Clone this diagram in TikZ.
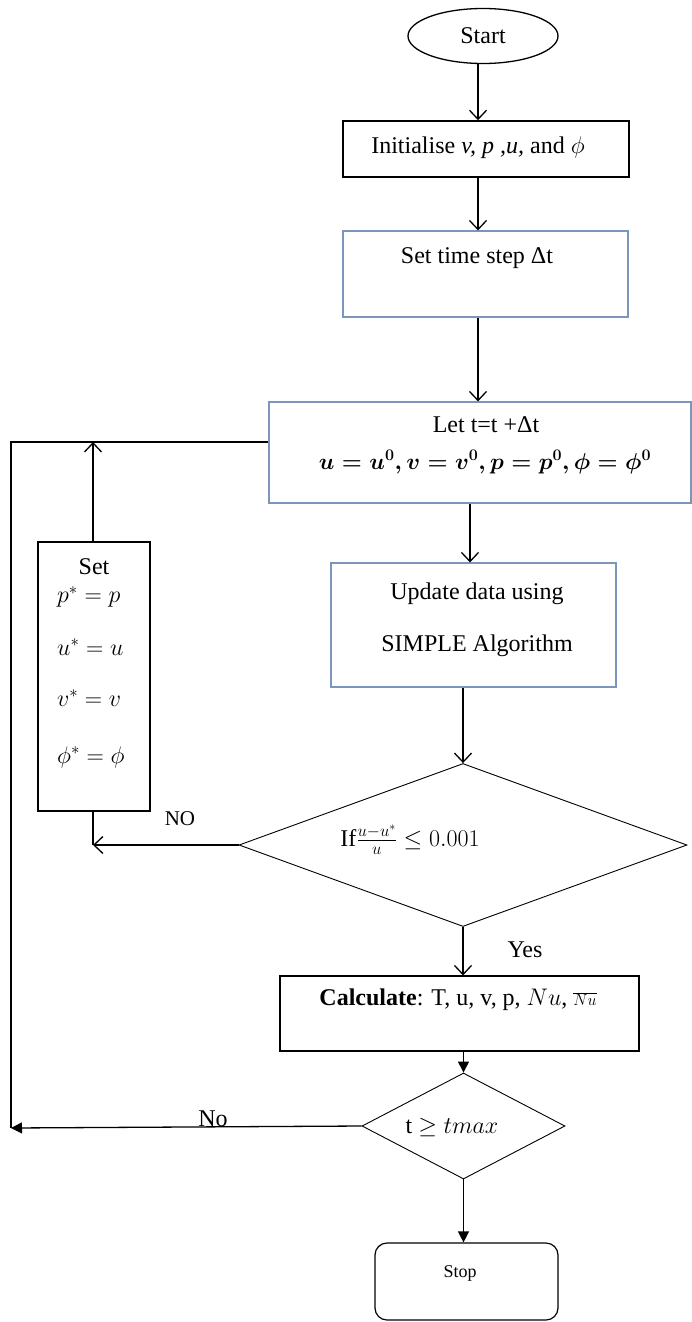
\documentclass[tikz,border=0pt]{standalone}
\usepackage{fix-cm}
\usepackage{fontspec}
\setmainfont{Liberation Serif}
\usetikzlibrary{shapes.geometric,arrows.meta,calc}
\definecolor{boxblue}{RGB}{122,150,188}
\tikzset{
 blackbox/.style={draw=black, line width=1.6pt, rectangle, inner sep=0pt},
 bluebox/.style={draw=boxblue, line width=1.2pt, rectangle, inner sep=0pt},
 decision/.style={draw=black, line width=0.9pt, diamond, inner sep=0pt},
 txt/.style={inner sep=0pt, font=\fontsize{24}{28}\selectfont},
 arr/.style={line width=1.3pt, -{Straight Barb[length=9pt,width=17pt,line width=1.3pt]}},
 farr/.style={line width=1.3pt, -{Triangle[length=11pt,width=11pt]}},
 conn/.style={line width=1.3pt},
}
\begin{document}
\begin{tikzpicture}[x=1pt,y=-1pt]
\useasboundingbox (0,0) rectangle (692,1322);
% nodes
\node[ellipse, draw, line width=1.3pt, minimum width=150pt, minimum height=55pt, inner sep=0pt, font=\fontsize{24}{28}\selectfont] (start) at (483,36) {Start};
\node[blackbox, minimum width=286pt, minimum height=56pt] (init) at (486,149) {};
\node[txt] (initT) at (478,148) {Initialise \textit{v, p ,u,} and $\phi$};
\node[bluebox, minimum width=285pt, minimum height=86pt] (ts) at (485.5,274) {};
\node[txt] (tsT) at (477,258) {Set time step Δt};
\node[bluebox, minimum width=422pt, minimum height=101pt] (let) at (480,452.5) {};
\node[txt] (letT1) at (486,425) {Let t=t +Δt};
\node[txt, font=\fontsize{23}{27}\selectfont\boldmath] (letT2) at (485,462) {$u=u^{0}, v=v^{0}, p=p^{0}, \phi=\phi^{0}$};
\node[bluebox, minimum width=285pt, minimum height=124pt] (upd) at (473.5,625) {};
\node[txt] (updT1) at (477,594) {Update data using};
\node[txt] (updT2) at (477,646) {SIMPLE Algorithm};
\node[decision, minimum width=448pt, minimum height=163pt] (d1) at (463,845) {};
\node[txt] (d1T) at (410,840) {If$\frac{u-u^{*}}{u}\leq 0.001$};
\node[blackbox, line width=1.2pt, minimum width=359pt, minimum height=75pt] (calc) at (459.5,1013.5) {};
\node[txt] (calcT) at (458,1000) {\textbf{Calculate}: T, u, v, p, $Nu$, {\fontsize{16}{16}\selectfont$\overline{Nu}$}};
\node[decision, minimum width=203pt, minimum height=106pt] (d2) at (463.5,1126) {};
\node[txt] (d2T) at (452,1127) {t $\geq tmax$};
\node[draw, line width=1.2pt, rounded corners=12pt, minimum width=183pt, minimum height=77pt, inner sep=0pt] (stop) at (466.5,1281.5) {};
\node[inner sep=0pt, font=\fontsize{18}{21}\selectfont] (stopT) at (460,1273) {Stop};
\node[blackbox, minimum width=112pt, minimum height=269pt] (set) at (94,676.5) {};
\node[txt] (setT) at (94,567) {Set};
\node[txt, anchor=west] (s1) at (57,597) {$p^{*}=p$};
\node[txt, anchor=west] (s2) at (57,647) {$u^{*}=u$};
\node[txt, anchor=west] (s3) at (57,698) {$v^{*}=v$};
\node[txt, anchor=west] (s4) at (57,757) {$\phi^{*}=\phi$};
% labels
\node[inner sep=0pt, font=\fontsize{21}{25}\selectfont] (noT) at (180,819) {NO};
\node[txt] (yesT) at (525,950) {Yes};
\node[txt] (noT2) at (213,1119) {No};
% coordinates
\coordinate (c1) at (478,0);
\coordinate (fb) at (11,442);
\coordinate (fbb) at (11,1128);
\coordinate (c2) at (470,0);
\coordinate (c3) at (93,0);
% connectors
\draw[arr] (start.south -| c1) -- (init.north -| c1);
\draw[arr] (init.south -| c1) -- (ts.north -| c1);
\draw[arr] (ts.south -| c1) -- (let.north -| c1);
\draw[arr] (let.south -| c2) -- (upd.north -| c2);
\draw[arr] (upd.south -| d1.north) -- (d1.north);
\draw[arr] (d1.south) -- (calc.north -| d1.south);
\draw[farr] (calc.south -| d2.north) -- (d2.north);
\draw[farr] (d2.south) -- (stop.north -| d2.south);
\draw[conn] (let.west |- fb) -- (fb) -- (fbb);
\draw[arr] (set.north -| c3) -- (c3 |- fb);
\draw[conn] (set.south -| c3) -- (c3 |- d1.west);
\draw[arr] (d1.west) -- (d1.west -| c3);
\draw[farr] (d2.west) -- (fbb);
\end{tikzpicture}
\end{document}
